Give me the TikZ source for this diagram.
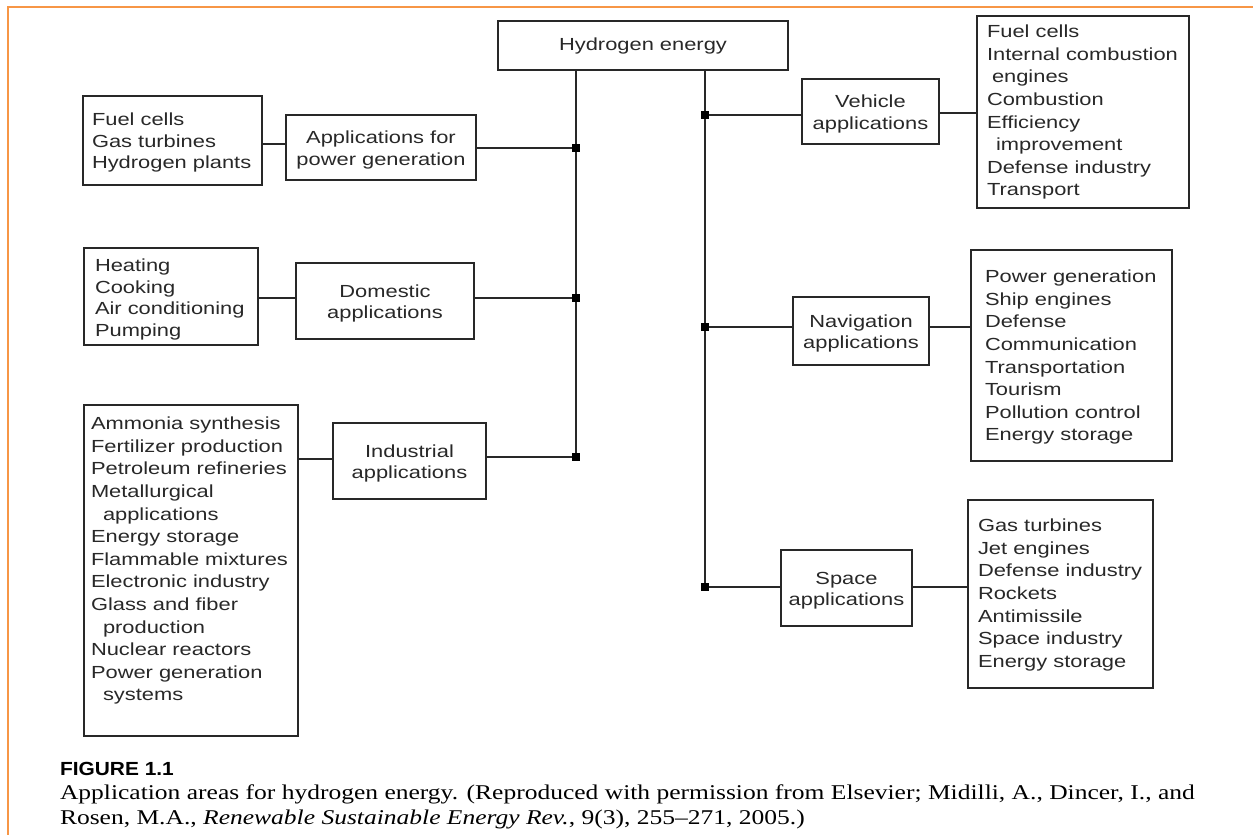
\documentclass[tikz,border=0pt]{standalone}
\usepackage{fontspec}
\setmainfont{Liberation Sans}[FakeStretch=1.25]
\newfontfamily\capserif{Liberation Serif}[FakeStretch=1.215]
\newfontfamily\capsans{Liberation Sans}[FakeStretch=1.10]
\definecolor{framecol}{RGB}{247,150,70}
\definecolor{ink}{RGB}{40,40,40}
\newcommand\tallfirst{\rule{0pt}{17.5pt}}
\tikzset{
  every node/.style={inner sep=0pt, outer sep=0pt, text=ink},
  box/.style={draw=ink, line width=1.6pt},
  midbox/.style={box, align=center, font=\fontsize{17.5}{21.5}\selectfont},
  listtext/.style={align=left, anchor=north west, font=\fontsize{17.5}{22.6}\selectfont},
  shortlist/.style={listtext, font=\fontsize{17.5}{21.5}\selectfont},
  conn/.style={draw=ink, line width=1.6pt},
  junc/.style={fill=black, minimum width=8pt, minimum height=8pt},
}
\begin{document}
\begin{tikzpicture}[x=1pt, y=-1pt]
\useasboundingbox (0,0) rectangle (1253,835);
\fill[white] (0,0) rectangle (1253,835);
% frame
\draw[framecol, line width=2pt] (8,835) -- (8,7) -- (1253,7);

% root
\node[midbox, minimum width=290pt, minimum height=49pt] (he) at (643,45.5) {\rule{0pt}{14pt}Hydrogen energy};

% junction points
\coordinate (jL1) at (576,148);
\coordinate (jL2) at (576,298);
\coordinate (jL3) at (576,457);
\coordinate (jR1) at (705,115);
\coordinate (jR2) at (705,327);
\coordinate (jR3) at (705,587);

% middle boxes
\node[midbox, minimum width=190pt, minimum height=65pt] (pg) at (381,147.5) {\tallfirst Applications for\\power generation};
\node[midbox, minimum width=178pt, minimum height=76pt] (dom) at (385,301) {\tallfirst Domestic\\applications};
\node[midbox, minimum width=153pt, minimum height=76pt] (ind) at (409.5,461) {\tallfirst Industrial\\applications};
\node[midbox, minimum width=137pt, minimum height=65pt] (veh) at (870.5,111.5) {\tallfirst Vehicle\\applications};
\node[midbox, minimum width=136pt, minimum height=68pt] (nav) at (861,331) {\tallfirst Navigation\\applications};
\node[midbox, minimum width=131pt, minimum height=76pt] (spa) at (846.5,588) {\tallfirst Space\\applications};

% list boxes
\node[box, minimum width=179pt, minimum height=89pt] (fc) at (172.5,140.5) {};
\node[box, minimum width=174pt, minimum height=97pt] (heat) at (171,296.5) {};
\node[box, minimum width=214pt, minimum height=331pt] (amm) at (191,570.5) {};
\node[box, minimum width=212pt, minimum height=192pt] (vl) at (1083,112) {};
\node[box, minimum width=201pt, minimum height=211pt] (nl) at (1071.5,355.5) {};
\node[box, minimum width=185pt, minimum height=188pt] (sl) at (1060.5,594) {};

% list texts
\node[shortlist] (fct) at (92,113) {Fuel cells\\Gas turbines\\Hydrogen plants};
\node[shortlist] (heatt) at (95,259) {Heating\\Cooking\\Air conditioning\\Pumping};
\node[listtext] (ammt) at (91,417) {Ammonia synthesis\\Fertilizer production\\Petroleum refineries\\Metallurgical\\\hspace*{12pt}applications\\Energy storage\\Flammable mixtures\\Electronic industry\\Glass and fiber\\\hspace*{12pt}production\\Nuclear reactors\\Power generation\\\hspace*{12pt}systems};
\node[listtext] (vlt) at (987,25) {Fuel cells\\Internal combustion\\\hspace*{5pt}engines\\Combustion\\Efficiency\\\hspace*{9pt}improvement\\Defense industry\\Transport};
\node[listtext] (nlt) at (985,270) {Power generation\\Ship engines\\Defense\\Communication\\Transportation\\Tourism\\Pollution control\\Energy storage};
\node[listtext] (slt) at (978,519) {Gas turbines\\Jet engines\\Defense industry\\Rockets\\Antimissile\\Space industry\\Energy storage};

% trunks
\draw[conn] (he.south -| jL1) -- (jL3);
\draw[conn] (he.south -| jR1) -- (jR3);

% branches
\draw[conn] (jL1) -- (jL1 -| pg.east);
\draw[conn] (jL2) -- (jL2 -| dom.east);
\draw[conn] (jL3) -- (jL3 -| ind.east);
\draw[conn] (jR1) -- (jR1 -| veh.west);
\draw[conn] (jR2) -- (jR2 -| nav.west);
\draw[conn] (jR3) -- (jR3 -| spa.west);

% leaves
\draw[conn] (pg.west |- 0,144) -- (fc.east |- 0,144);
\draw[conn] (dom.west |- jL2) -- (heat.east |- jL2);
\draw[conn] (ind.west |- 0,459) -- (amm.east |- 0,459);
\draw[conn] (veh.east |- 0,113) -- (vl.west |- 0,113);
\draw[conn] (nav.east |- jR2) -- (nl.west |- jR2);
\draw[conn] (spa.east |- jR3) -- (sl.west |- jR3);

% junction squares
\node[junc] (qL1) at (jL1) {};
\node[junc] (qL2) at (jL2) {};
\node[junc] (qL3) at (jL3) {};
\node[junc] (qR1) at (jR1) {};
\node[junc] (qR2) at (jR2) {};
\node[junc] (qR3) at (jR3) {};

% caption
\node[anchor=base west, text=black, font=\capsans\bfseries\fontsize{19}{22}\selectfont] (figlab) at (60,775) {FIGURE 1.1};
\node[anchor=base west, text=black, font=\capserif\fontsize{21}{25}\selectfont] (cap1) at (60,799) {Application areas for hydrogen energy. (Reproduced with permission from Elsevier; Midilli, A., Dincer, I., and};
\node[anchor=base west, text=black, font=\capserif\fontsize{21}{25}\selectfont] (cap2) at (60,824) {Rosen, M.A., \textit{Renewable Sustainable Energy Rev.}, 9(3), 255–271, 2005.)};
\end{tikzpicture}
\end{document}
